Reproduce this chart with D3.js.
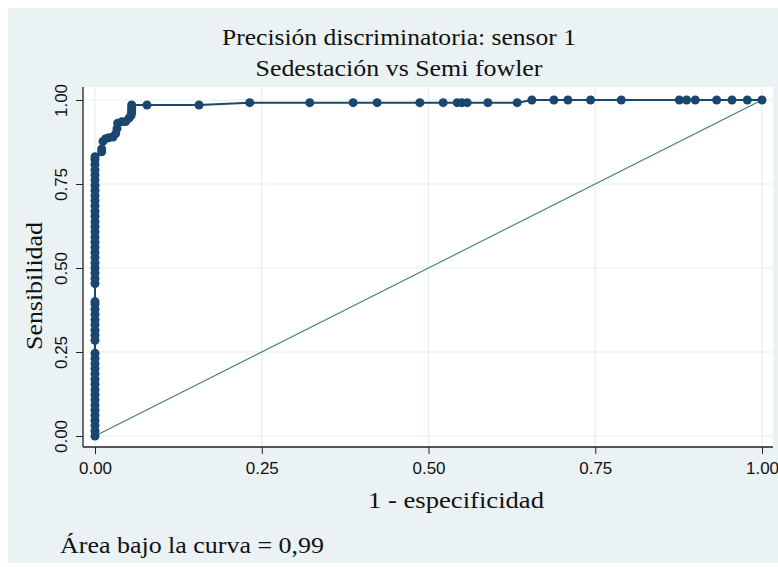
<!DOCTYPE html>
<html>
<head>
<meta charset="utf-8">
<script src="https://cdn.jsdelivr.net/npm/d3@7"></script>
<style>
  body { margin: 0; background: #fff; }
  svg { display: block; }
  .tick text { font-family: "Liberation Sans", Arial, sans-serif; font-size: 17px; fill: #111; }
  .ttl { font-family: "Liberation Serif", "Times New Roman", serif; fill: #111; font-size: 24px; }
</style>
</head>
<body>
<div id="chart"></div>
<script>
// tick positions and labels
var tickVals = [0, 0.25, 0.5, 0.75, 1];
var tickLabels = ["0.00", "0.25", "0.50", "0.75", "1.00"];

// points sitting on 1 - especificidad = 0
var colSens = [0, 0.015, 0.031, 0.046, 0.062, 0.077, 0.092, 0.108, 0.123, 0.138, 0.154, 0.169,
  0.185, 0.200, 0.215, 0.231, 0.246,
  0.285, 0.300, 0.315, 0.331, 0.346, 0.362, 0.377, 0.392, 0.400,
  0.454, 0.469, 0.485, 0.500, 0.515, 0.531, 0.546, 0.562, 0.577, 0.592, 0.608, 0.623,
  0.638, 0.654, 0.669, 0.685, 0.700, 0.715, 0.731, 0.746, 0.762, 0.777, 0.792, 0.808,
  0.823, 0.831];

// rest of the curve
var rocFpr = [0.010, 0.010, 0.012, 0.016, 0.021, 0.027, 0.031, 0.033, 0.034, 0.040, 0.046,
  0.051, 0.054, 0.055, 0.055, 0.055, 0.055, 0.078, 0.156, 0.232, 0.322, 0.387, 0.423,
  0.487, 0.522, 0.543, 0.550, 0.558, 0.589, 0.633, 0.655, 0.688, 0.709, 0.743, 0.789,
  0.876, 0.887, 0.900, 0.932, 0.955, 0.978, 1.000];
var rocSens = [0.846, 0.854, 0.877, 0.885, 0.888, 0.890, 0.900, 0.915, 0.931, 0.935, 0.936,
  0.946, 0.954, 0.962, 0.969, 0.977, 0.985, 0.985, 0.985, 0.992, 0.992, 0.992, 0.992,
  0.992, 0.992, 0.992, 0.992, 0.992, 0.992, 0.992, 1, 1, 1, 1, 1,
  1, 1, 1, 1, 1, 1, 1];

var refLine = [[0, 0], [1, 1]];

var pts = [];
colSens.forEach(function(s) { pts.push([0, s]); });
rocFpr.forEach(function(f, i) { pts.push([f, rocSens[i]]); });

var w = 778, h = 567;
var navy = "#1a476f";
var plot = {left: 83, right: 773, top: 87, bottom: 447};

var svg = d3.select("#chart").append("svg")
  .attr("width", w)
  .attr("height", h);

svg.append("rect").attr("x", 0).attr("y", 0).attr("width", w).attr("height", h).attr("fill", "#fff");
svg.append("rect").attr("x", 8).attr("y", 8).attr("width", w - 8).attr("height", 555).attr("fill", "#eaf2f3");
svg.append("rect")
  .attr("x", plot.left).attr("y", plot.top)
  .attr("width", plot.right - plot.left).attr("height", plot.bottom - plot.top)
  .attr("fill", "#fff");

var x = d3.scaleLinear().domain([0, 1]).range([95, 762]);
var y = d3.scaleLinear().domain([0, 1]).range([436, 100]);

// grid
svg.selectAll(".gx").data(tickVals).enter().append("line")
  .attr("x1", function(d) { return x(d); }).attr("x2", function(d) { return x(d); })
  .attr("y1", plot.top).attr("y2", plot.bottom)
  .attr("stroke", "#e6eff1").attr("stroke-width", 1.2);
svg.selectAll(".gy").data(tickVals).enter().append("line")
  .attr("y1", function(d) { return y(d); }).attr("y2", function(d) { return y(d); })
  .attr("x1", plot.left).attr("x2", plot.right)
  .attr("stroke", "#e6eff1").attr("stroke-width", 1.2);

// axes
var xAxis = svg.append("g")
  .attr("transform", "translate(0," + plot.bottom + ")")
  .call(d3.axisBottom(x).tickValues(tickVals).tickFormat(function(d, i) { return tickLabels[i]; })
    .tickSize(7).tickSizeOuter(0).tickPadding(8));
xAxis.select(".domain").remove();
xAxis.selectAll(".tick line").attr("stroke", "#222");

var yAxis = svg.append("g")
  .attr("transform", "translate(" + plot.left + ",0)")
  .call(d3.axisLeft(y).tickValues(tickVals).tickFormat(function(d, i) { return tickLabels[i]; })
    .tickSize(7).tickSizeOuter(0));
yAxis.select(".domain").remove();
yAxis.selectAll(".tick line").attr("stroke", "#222");
yAxis.selectAll(".tick text")
  .attr("transform", "rotate(-90)")
  .attr("x", 0).attr("y", -16).attr("dy", 0)
  .style("text-anchor", "middle");

svg.append("line").attr("x1", plot.left).attr("x2", plot.right)
  .attr("y1", plot.bottom).attr("y2", plot.bottom).attr("stroke", "#222").attr("stroke-width", 1.3);
svg.append("line").attr("x1", plot.left).attr("x2", plot.left)
  .attr("y1", plot.top).attr("y2", plot.bottom).attr("stroke", "#222").attr("stroke-width", 1.3);

// reference diagonal
svg.append("path")
  .datum(refLine)
  .attr("d", d3.line().x(function(d) { return x(d[0]); }).y(function(d) { return y(d[1]); }))
  .attr("fill", "none").attr("stroke", "#3a806f").attr("stroke-width", 1.1);

// roc curve
svg.append("path")
  .datum(pts)
  .attr("d", d3.line().x(function(d) { return x(d[0]); }).y(function(d) { return y(d[1]); }))
  .attr("fill", "none").attr("stroke", navy).attr("stroke-width", 2);

svg.selectAll(".pt").data(pts).enter().append("circle")
  .attr("cx", function(d) { return x(d[0]); })
  .attr("cy", function(d) { return y(d[1]); })
  .attr("r", 4.5)
  .attr("fill", navy);

// titles
function label(txt, len) {
  return svg.append("text").attr("class", "ttl")
    .attr("textLength", len).attr("lengthAdjust", "spacingAndGlyphs")
    .text(txt);
}
label("Precisión discriminatoria: sensor 1", 354).attr("x", 399).attr("y", 45).attr("text-anchor", "middle");
label("Sedestación vs Semi fowler", 287).attr("x", 399).attr("y", 76).attr("text-anchor", "middle");
label("1 - especificidad", 176).attr("x", 456).attr("y", 508).attr("text-anchor", "middle");
label("Sensibilidad", 128).attr("transform", "translate(42,286) rotate(-90)").attr("text-anchor", "middle");
label("Área bajo la curva = 0,99", 264).attr("x", 60).attr("y", 553);
</script>
</body>
</html>
